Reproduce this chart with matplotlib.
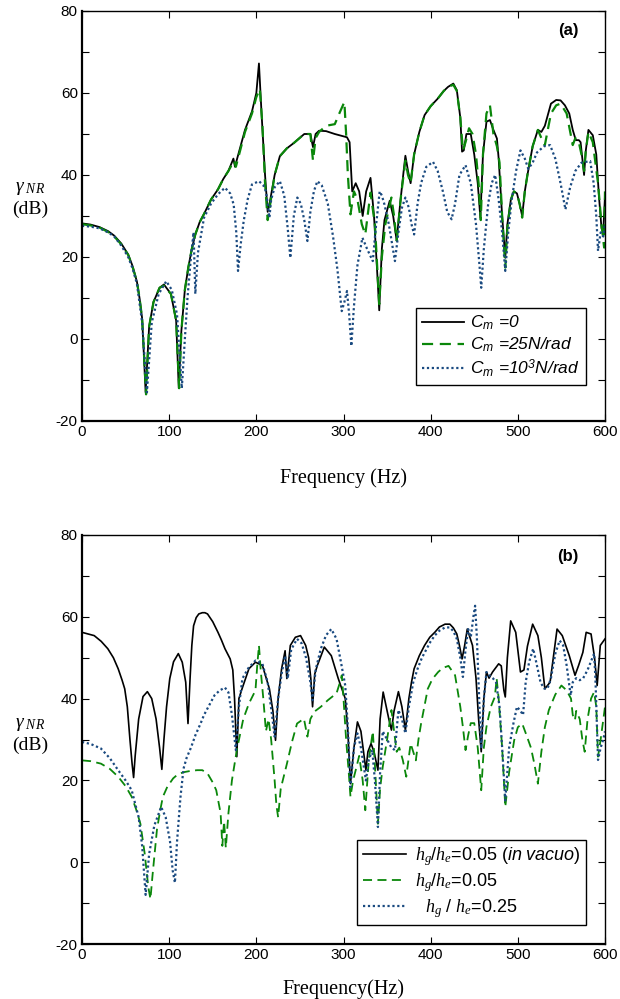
import matplotlib
matplotlib.use("Agg")
import matplotlib.pyplot as plt
import numpy as np

plt.rcParams['font.family'] = ['Liberation Sans', 'DejaVu Sans']
plt.rcParams['mathtext.fontset'] = 'custom'
plt.rcParams['mathtext.it'] = 'Liberation Serif:italic'
plt.rcParams['mathtext.rm'] = 'Liberation Serif'
plt.rcParams['mathtext.sf'] = 'Liberation Sans:italic'
plt.rcParams['axes.unicode_minus'] = False

# ---------------- Panel (a) data ----------------
a_black_f = [0, 10, 20, 30, 37, 45, 53, 58, 63, 66, 69, 73, 77, 82, 89, 94, 102, 108, 111, 114, 118, 122, 126,
             130, 135, 140, 148, 156, 162, 168, 173.7, 175.5, 178, 187, 195, 200, 203, 206, 210, 213, 216, 221,
             227, 235, 243, 255, 262, 265, 268, 272, 280, 290, 304, 307, 310, 314, 318, 322, 326, 331, 335,
             339, 341, 344, 347, 353, 357, 361, 365, 369, 371, 374, 377, 381, 387, 393, 400, 408, 415, 420,
             426, 430, 434, 436, 438, 441, 446, 450, 454, 457, 460, 464, 468, 472, 476, 478, 482, 485.6, 488,
             492, 495.5, 499, 502, 505, 508, 511, 517, 523, 527, 531, 538, 544, 549, 554, 559, 563, 566.5, 570,
             572, 576, 578, 581, 586, 590, 593, 596, 598, 600]
a_black_v = [28.2, 27.9, 27.3, 26.3, 25.2, 23.3, 20.6, 17.8, 14, 10, 5, -13, 3, 9, 12.5, 13.3, 11, 4.5, -12, 2,
             12, 17.5, 22, 25.5, 28.5, 30.5, 34, 36.5, 39, 41, 44, 42, 44, 51, 55.5, 60, 67.2, 55, 40, 31, 34,
             40, 44.6, 46.5, 47.8, 50, 50, 46.8, 50, 50.8, 50.7, 50, 49.2, 48, 36, 38, 36, 30, 36, 39.3, 30,
             15, 7, 22, 29, 33.7, 30, 24, 33, 41, 44.7, 41, 38, 45, 50.5, 54.6, 56.8, 58.6, 60.5, 61.5,
             62.3, 60.7, 54, 45.7, 46, 50, 50, 45, 38, 29.6, 45, 53, 53.4, 51, 48.9, 44, 30, 19.8, 28,
             34, 36, 35.5, 33, 30, 36, 40, 47, 51, 50.5, 52, 57.4, 58.3, 58.2, 57, 55, 51, 48.5, 48.5,
             48, 40, 46, 51, 49.7, 45, 35, 27, 26, 35]

a_green_f = [0, 10, 20, 30, 37, 45, 53, 58, 63, 66, 69, 73.5, 77, 82, 89, 94, 102, 108, 111.5, 114, 118, 122,
             126, 130, 135, 140, 148, 156, 162, 168, 174.5, 176.5, 179, 187, 195, 200, 204, 207, 210, 213, 216,
             221, 227, 235, 243, 255, 262, 265, 268, 272, 280, 290, 296, 301, 303, 305, 308, 312, 316, 321,
             325, 331, 336, 341, 344, 348, 355, 358, 361, 366, 371, 374, 377, 381, 387, 393, 400, 408, 415,
             420, 426, 430, 434, 437, 440, 444, 448, 452, 455, 457.5, 460, 464, 468, 472, 476, 479, 482, 485.6,
             488, 492, 495.5, 499, 502, 505, 508, 511, 517, 523, 527, 531, 538, 544, 549, 556, 563, 566, 570,
             573, 576, 578, 581, 586, 592, 596, 599, 600]
a_green_v = [28, 27.7, 27.2, 26.1, 25, 23.1, 20.5, 17.6, 14, 10, 5, -13.5, 3, 9, 12.5, 13, 11, 4.5, -12, 2, 12,
             17.5, 22, 25.5, 28.5, 30.5, 34, 36.5, 39, 41, 43.5, 42, 44, 50.5, 55, 59, 61, 52, 38, 29, 33,
             40, 44.6, 46.5, 47.8, 50, 50, 43.5, 49, 50.5, 52, 52.4, 55.4, 57.8, 50, 40, 30.4, 36, 34, 28,
             25.5, 35.7, 28, 8.5, 20, 28, 34.5, 30, 24, 35, 43.5, 40, 38, 45, 50.5, 54.6, 56.8, 58.6, 60.5,
             61.5, 62, 60.5, 54, 46, 48, 51.4, 50, 45, 38, 29, 45, 55, 57, 50, 47, 43, 30, 17.4,
             27, 34, 36, 35.5, 33, 29.6, 36, 40, 47, 51, 49, 47.3, 55, 57, 57.4, 55, 47.3, 49, 48,
             45, 41, 46, 50.5, 48, 38, 28, 22.3, 36]

a_blue_f = [0, 10, 20, 30, 37, 45, 53, 58, 63, 69, 74.5, 80, 88, 96.7, 103, 109, 114.5, 118, 121, 125, 128,
            130, 133, 140, 148, 156, 164, 170, 174, 177, 179, 182, 185.5, 190, 195, 203, 208, 211, 213, 215,
            217, 221, 227, 232, 236, 239, 243, 247, 251, 255, 258.6, 262, 266, 270, 275, 282, 288, 293, 298,
            301, 304, 306.5, 309, 312, 316, 321.7, 327, 333.6, 337, 341.5, 344, 347, 352, 359, 363, 367,
            371, 375, 378, 381, 385, 389, 395, 402.7, 408, 414, 419, 424, 428, 433, 440, 446, 452, 456, 458,
            461, 466, 470, 474, 478, 482, 485.6, 489, 493, 498, 503, 508, 512, 517, 522, 530, 537, 543, 549,
            554.6, 560, 566, 573, 583, 587, 590, 592, 595, 598, 600]
a_blue_v = [27.6, 27.4, 27, 26, 25, 22.8, 20, 17.2, 13.5, 4, -13, 4, 11, 14.1, 12, 6, -12, 0, 10, 20, 26,
            11, 21, 29.6, 33, 35.3, 36.9, 35.5, 32.8, 26, 16.6, 23, 28.8, 34, 37.7, 38.5, 37.5, 36, 33, 29.6,
            34, 37, 38.5, 35, 27, 19.8, 30, 34.5, 33, 29, 23.9, 31, 36, 38.5, 37.5, 33, 25, 17, 6.8,
            9, 11.7, 6, -1.7, 8, 18, 24.7, 22, 19, 27, 36, 35, 32.8, 28, 19, 26, 32,
            34.5, 32, 28, 25.5, 33, 38, 42, 43.2, 41, 36, 31, 29.2, 33, 40, 42.4, 38, 28, 18, 12.5,
            22, 33, 38, 40, 34, 26, 16.6, 26, 34, 41, 46, 44, 41.5, 43, 45.5, 47, 47.3, 44, 38,
            31.6, 37, 41, 43, 43.4, 38, 30, 21.5, 26, 25, 28]

# ---------------- Panel (b) data ----------------
b_black_f = [0, 14, 22, 29.6, 36, 41.5, 46, 49, 52, 55, 57.5, 59.2, 61, 65, 70, 75, 80, 85, 89, 91.6, 94, 97,
             100.7, 105, 110.5, 115, 119, 121.6, 124, 126, 128, 131, 134, 138, 141, 144, 150, 156, 160, 164,
             170, 173, 175, 177.6, 180, 183.6, 191.5, 199, 207, 215, 219, 222, 225, 229, 233, 235, 239, 244.8,
             250.7, 256.6, 260, 262.5, 264.5, 267, 270, 278, 286, 294, 302, 305, 308, 312, 316, 320, 325.7,
             328, 331.6, 335, 339.5, 342, 345.5, 349, 352, 355, 358, 363, 367, 371, 375, 378, 381, 387, 393,
             399, 404.7, 410, 416.5, 422, 426, 430, 433, 436, 439, 442, 445, 448, 452, 455, 458, 461, 464,
             467, 471, 478, 481, 484, 485.6, 488, 491.8, 497.6, 503, 507, 511, 517, 523, 527, 531, 537, 545,
             551, 559, 565.6, 569.7, 574.6, 578.4, 584, 588, 591, 594.6, 600]
b_black_v = [56.2, 55.4, 54, 52.2, 50, 47.3, 44.5, 42.4, 38, 30, 24, 20.7, 26, 35, 40.5, 41.7, 40, 35, 28, 22.7,
             30, 38, 44.9, 49, 51, 48.9, 44, 33.9, 45, 53, 57.8, 59.8, 60.7, 61, 61, 60.7, 58.8, 56.2, 54.3,
             52.2, 49.7, 47, 40, 25.8, 40, 42.4, 47.3, 48.9, 48.1, 42.4, 37, 29.8, 40, 47.3, 51.7, 44.9, 53,
             55, 55.4, 53, 50, 44.9, 38, 46, 48.1, 52.6, 50.5, 44.9, 40, 32, 19.2, 28, 34.3, 32, 22.5,
             27, 29, 27, 22.5, 35, 41.6, 38, 35, 32.3, 37, 41.7, 38, 32.3, 40, 44, 47.3, 50.5, 53,
             55, 56.2, 57.5, 58.2, 58.2, 57.3, 55.8, 53, 49.7, 53, 57, 55, 53, 45, 35, 27, 40, 46.5,
             45, 46.5, 48.5, 48, 42, 40.4, 50, 59, 56.2, 46.5, 47, 52.8, 58.2, 55.4, 50, 42.4, 44, 57,
             55.4, 50.5, 45.7, 48.1, 51.3, 56.2, 55.8, 50, 43.2, 53, 54.6]

b_green_f = [0, 10, 21.7, 32, 41.5, 50, 57, 62, 67, 72, 76, 78.5, 81, 86, 90, 92.8, 98, 104.6, 110, 116.5, 124,
             132, 138, 144, 150, 154, 159, 161, 163, 165, 168, 172, 177.6, 185, 191.5, 199, 201, 203, 205, 208,
             211, 214, 217, 221, 223, 225, 228, 235, 241, 246.7, 254.6, 258.6, 262, 266.5, 274, 282, 292, 296,
             298, 300, 303, 306, 308, 311, 314, 318, 322, 325, 329, 333.6, 336, 339.5, 342, 345, 350, 355,
             358, 361, 364, 368, 372, 377, 380, 383, 386, 389, 396.7, 402, 408.6, 414, 420.5, 428, 434, 437,
             440, 443, 446, 450, 454, 458, 461, 464, 469, 473.6, 475.7, 478, 482, 485.6, 490, 495.8, 500, 505,
             510, 515, 519, 523, 527, 531, 535.6, 543, 550, 556, 561, 563, 565.5, 567, 571, 574, 576.7, 580,
             584, 587.5, 590, 592, 595, 600]
b_green_v = [24.9, 24.7, 24.1, 22.8, 20.9, 18.6, 16, 13, 9.4, 2, -6, -9, -3, 8, 13, 16, 18.5, 20.5, 21.5, 22,
             22.3, 22.5, 22.5, 21.7, 19.5, 17.6, 12, 4, 10, 3.5, 12, 20, 27.4, 35, 38.8, 42, 48, 53, 47, 40,
             32, 35, 30, 20, 14, 11, 18, 24, 29.5, 33.9, 35.1, 30.7, 35, 36.8, 38, 39.6, 41.3, 44,
             45.7, 40, 30, 22, 16, 20, 22.5, 26, 20, 12.7, 25, 32, 24, 9.4, 18, 23.3, 30, 37.2,
             32, 27, 28, 25, 20.9, 29, 27, 24.9, 30, 33.9, 42.4, 44.8, 46.5, 47.5, 48, 45.7, 38, 33,
             27.4, 31, 34, 34, 28, 17.6, 28, 33.1, 38, 40.4, 44.9, 40, 28, 13.5, 22, 29.8, 33, 33.9,
             31, 28, 24, 19.2, 27, 33, 37.2, 41, 43.2, 42, 40, 36, 34.7, 37, 35, 30, 27, 35,
             40, 41.6, 38, 25.8, 30, 38]

b_blue_f = [0, 10, 21.7, 32, 41.5, 50, 57, 65, 69, 73, 77, 83, 90.8, 96, 101, 104, 106.6, 109, 113, 116.5, 120,
            125, 130, 136, 140, 145, 152, 158, 164, 168, 172, 176.5, 180, 184, 191, 199, 207, 213, 218, 221,
            225, 229, 233, 236, 240, 246.7, 252, 257, 262, 264.5, 268, 274, 280, 286, 292, 297, 302, 305, 308,
            312, 316, 320, 325.7, 329, 333, 336, 339.5, 342, 345, 350, 355, 359, 363, 367, 371, 375, 380, 385,
            390, 395, 400, 405, 410, 416.5, 422, 426, 430, 434, 437, 440, 443, 446, 449, 451, 453, 456, 458,
            461, 464, 468, 471.7, 475, 479, 482, 485.6, 490, 495, 499, 503, 506, 509, 513, 517.6, 521, 526,
            530, 534, 538, 543, 548, 552, 556, 560.6, 563, 567, 571, 575, 580, 587.5, 589, 592, 595, 598, 600]
b_blue_v = [29.4, 28.9, 27.8, 25.4, 22.5, 20, 17.6, 11, 4, -8, 2, 9, 13.5, 11, 5, -2, -5, 5, 16, 22.9, 25.5,
            28, 31, 33.9, 36, 38, 40.8, 42, 42.7, 41.5, 36, 27.4, 38, 44.9, 47.5, 49.3, 48.5, 44, 36, 30.7,
            40, 46, 50.5, 44.9, 52, 54.6, 53.5, 50, 44, 39.6, 47, 52.2, 55.5, 57, 54.6, 49, 43.2, 33, 18.4,
            28, 31.5, 28, 20, 25, 27.4, 20, 8.6, 22, 32, 30, 28, 27.4, 37.2, 35, 31.5, 38, 44, 47.3,
            50, 52, 54, 55.5, 56.6, 57.4, 57.4, 56.5, 54.6, 50, 45.3, 52, 57, 55, 60, 62.7, 55, 38, 27.8,
            40, 46.5, 45.5, 44.9, 44, 38, 28, 15.1, 28, 34, 38, 37, 36, 44, 49, 52.2, 49, 44,
            42.5, 42.4, 45, 51, 54.2, 53, 48.1, 40.8, 44, 45, 44.5, 45, 47, 51, 45, 25, 28, 30, 32]

xticks = [0, 100, 200, 300, 400, 500, 600]
yticks = [-20, 0, 20, 40, 60, 80]

legend_a = [r'$\mathsf{C}_{\mathsf{m}}$ =0', r'$\mathsf{C}_{\mathsf{m}}$ =25N/rad',
            r'$\mathsf{C}_{\mathsf{m}}$ =10$^{\mathsf{3}}$N/rad']
legend_b = [r'$h_g$/$h_e$=0.05 ($\mathsf{in\ vacuo}$)', r'$h_g$/$h_e$=0.05', r'  $h_g$ / $h_e$=0.25']

GREEN = '#0a870a'
BLUE = '#1a4a80'

W, H = 620, 999
fig = plt.figure(figsize=(6.2, 9.99), dpi=100)


def px_axes(l, t, r, b):
    return fig.add_axes([l / W, 1 - b / H, (r - l) / W, (b - t) / H])


def style(ax):
    ax.set_xlim(0, 600)
    ax.set_ylim(-20, 80)
    ax.set_xticks(xticks)
    ax.set_yticks(yticks)
    ax.set_yticks(np.arange(-20, 81, 10), minor=True)
    ax.tick_params(which='both', direction='in', top=True, right=True, length=5, width=0.8,
                   labelsize=11, pad=3)
    ax.tick_params(axis='x', which='minor', bottom=False, top=False)
    for s in ax.spines.values():
        s.set_linewidth(1.0)
    ax.spines['left'].set_linewidth(1.6)
    ax.spines['bottom'].set_linewidth(1.6)


axa = px_axes(82, 11, 605, 421)
style(axa)
l1, = axa.plot(a_black_f, a_black_v, color='black', lw=1.3, label=legend_a[0])
l2, = axa.plot(a_green_f, a_green_v, color=GREEN, lw=1.6, ls=(0, (5, 3)), label=legend_a[1])
l3, = axa.plot(a_blue_f, a_blue_v, color=BLUE, lw=1.6, ls=(0, (1, 1.2)), label=legend_a[2])
fig.text(568 / W, 1 - 31 / H, '(a)', fontsize=12, fontweight='bold', ha='center', va='center')
axa.set_xlabel('Frequency (Hz)', family='Liberation Serif', fontsize=14.5, labelpad=21)
fig.text(30 / W, 1 - 199 / H, '$\\gamma_{\\ NR}$\n(dB)', family='Liberation Serif', fontsize=14,
         ha='center', va='center', linespacing=1.3)
leg = axa.legend(handles=[l1, l2, l3], loc='upper right', bbox_to_anchor=(586 / W, 1 - 308 / H),
                 bbox_transform=fig.transFigure, borderaxespad=0, fancybox=False, framealpha=1,
                 edgecolor='black', handlelength=2.4, handletextpad=0.35, labelspacing=0.2,
                 borderpad=0.35, prop={'family': 'Liberation Sans', 'style': 'italic', 'size': 12.5})
leg.get_frame().set_linewidth(1.0)

axb = px_axes(82, 535, 605, 944)
style(axb)
m1, = axb.plot(b_black_f, b_black_v, color='black', lw=1.2, label=legend_b[0])
m2, = axb.plot(b_green_f, b_green_v, color=GREEN, lw=1.3, ls=(0, (5, 3)), label=legend_b[1])
m3, = axb.plot(b_blue_f, b_blue_v, color=BLUE, lw=1.6, ls=(0, (1, 1.2)), label=legend_b[2])
fig.text(568 / W, 1 - 557 / H, '(b)', fontsize=12, fontweight='bold', ha='center', va='center')
axb.set_xlabel('Frequency(Hz)', family='Liberation Serif', fontsize=14.5, labelpad=12)
fig.text(30 / W, 1 - 735 / H, '$\\gamma_{\\ NR}$\n(dB)', family='Liberation Serif', fontsize=14,
         ha='center', va='center', linespacing=1.3)
legb = axb.legend(handles=[m1, m2, m3], loc='upper right', bbox_to_anchor=(586 / W, 1 - 840 / H),
                  bbox_transform=fig.transFigure, borderaxespad=0, fancybox=False, framealpha=1,
                  edgecolor='black', handlelength=2.4, handletextpad=0.5, labelspacing=0.15,
                  borderpad=0.3, prop={'family': 'Liberation Sans', 'size': 13})
legb.get_frame().set_linewidth(1.0)

fig.savefig('out.png', dpi=100)
